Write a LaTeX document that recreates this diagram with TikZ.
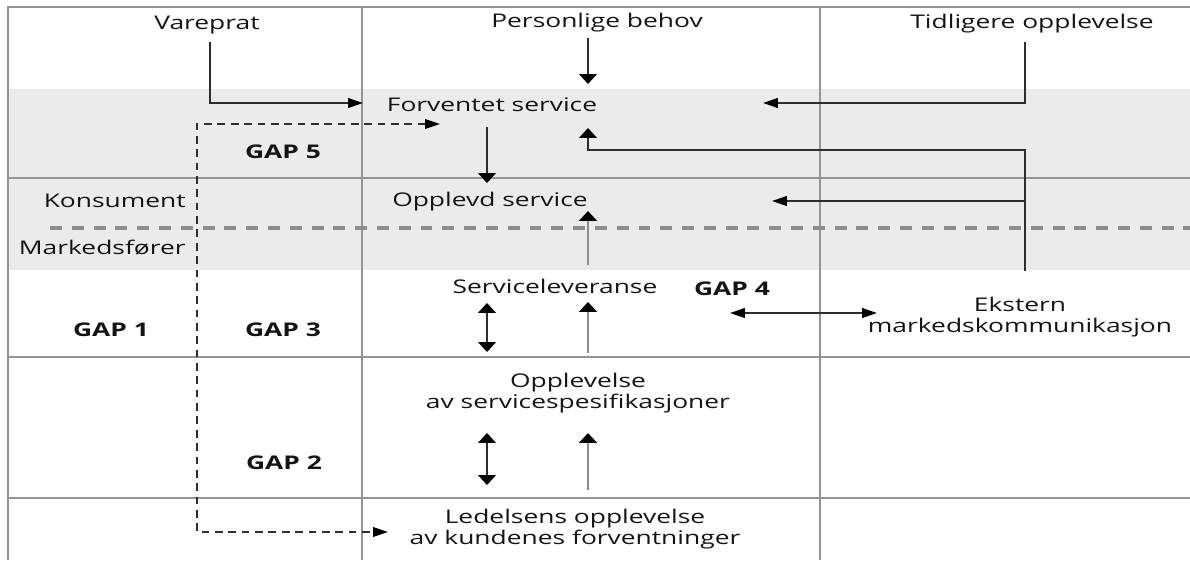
\documentclass[tikz,border=0pt]{standalone}
\usepackage{fontspec}
\setmainfont{Open Sans}[FakeStretch=1.4]
\usetikzlibrary{positioning,arrows.meta,calc}

\tikzset{
	txt/.style={font=\fontsize{13.4}{15.5}\selectfont,text=black!92,align=center,inner sep=0pt},
	gaptxt/.style={txt,font=\fontsize{13.4}{15.5}\selectfont\bfseries},
	gridline/.style={draw=black!42,line width=1pt},
	htip/.tip={Triangle[length=10.5pt,width=6.8pt,color=black]},
	vtip/.tip={Triangle[length=7pt,width=12.5pt,color=black]},
	harr/.style={draw=black!82,line width=1.4pt,-htip},
	varr/.style={draw=black!82,line width=1.4pt,-vtip},
	garr/.style={varr,draw=black!45,line width=1.7pt},
	vdbl/.style={varr,vtip-vtip},
	hdbl/.style={harr,htip-htip},
	dashlink/.style={hdbl,line width=0.9pt,dash pattern=on 5.5pt off 4pt},
	divider/.style={draw=black!45,line width=2.8pt,dash pattern=on 8.5pt off 7pt}
}

\begin{document}
\begin{tikzpicture}[x=0.025cm,y=-0.025cm]

		\useasboundingbox (0,0) rectangle (1190,560);
		\fill[white] (0,0) rectangle (1190,560);
		
		% consumer band
		\fill[black!8] (8,89) rectangle (1190,270);
		
		% grid
		\draw[gridline] (8,560) -- (8,7) -- (1190,7);
		\draw[gridline] (362,7) -- (362,560);
		\draw[gridline] (820,7) -- (820,560);
		\draw[gridline] (8,178) -- (1190,178);
		\draw[gridline] (8,357) -- (1190,357);
		\draw[gridline] (8,498) -- (1190,498);
		\draw[divider] (50,228) -- (1190,228);
		
		\node[txt] (vare) at (207,25) {Vareprat};
		\node[txt] (pers) at (597,23) {Personlige behov};
		\node[txt] (tidl) at (1032,24) {Tidligere opplevelse};
		\node[txt] (forv) at (492,105) {Forventet service};
		\node[txt] (oppl) at (490,202) {Opplevd service};
		\node[txt,anchor=east] (kons) at (186,201) {Konsument};
		\node[txt,anchor=east] (mark) at (186,248) {Markedsfører};
		\node[txt] (serv) at (555,286) {Serviceleveranse};
		\node[txt] (ekst) at (1020,317) {Ekstern\\markedskommunikasjon};
		\node[txt] (spes) at (578,393) {Opplevelse\\av servicespesifikasjoner};
		\node[txt] (led) at (575,529) {Ledelsens opplevelse\\av kundenes forventninger};
		
		\node[gaptxt] (gap5) at (283,152) {GAP 5};
		\node[gaptxt] (gap1) at (111,330) {GAP 1};
		\node[gaptxt] (gap3) at (283,330) {GAP 3};
		\node[gaptxt] (gap2) at (284,463) {GAP 2};
		\node[gaptxt] (gap4) at (732,289) {GAP 4};
		
		\draw[harr] ($(vare)+(3,17)$) |- ($(forv)+(-129,-2)$);
		\draw[varr] ($(pers)+(-9,15)$) -- ($(forv)+(96,-21)$);
		\draw[harr] ($(tidl)+(-7,18)$) |- ($(forv)+(271,-2)$);
		\draw[varr] ($(forv)+(-5,22)$) -- ($(oppl)+(-3,-19)$);
		\draw[varr] ($(ekst)+(5,-46)$) |- ($(forv)+(96,45)$) -- ($(forv)+(96,23)$);
		\draw[harr] ($(ekst)+(5,-116)$) -- ($(oppl)+(282,-1)$);
		\draw[garr] ($(serv)+(33,-21)$) -- ($(oppl)+(98,9)$);
		
		\draw[vdbl] ($(serv)+(-68,17)$) -- ($(spes)+(-91,-41)$);
		\draw[garr] ($(spes)+(10,-40)$) -- ($(serv)+(33,16)$);
		\draw[vdbl] ($(spes)+(-91,40)$) -- ($(led)+(-88,-44)$);
		\draw[garr] ($(led)+(13,-39)$) -- ($(spes)+(10,40)$);
		\draw[hdbl] ($(gap4)+(-2,24)$) -- ($(ekst)+(-143,-4)$);
		
		\draw[dashlink] ($(forv)+(-52,19)$) -| ($(gap3)+(-86,0)$) |- ($(led)+(-187,3)$);
		
\end{tikzpicture}
\end{document}
